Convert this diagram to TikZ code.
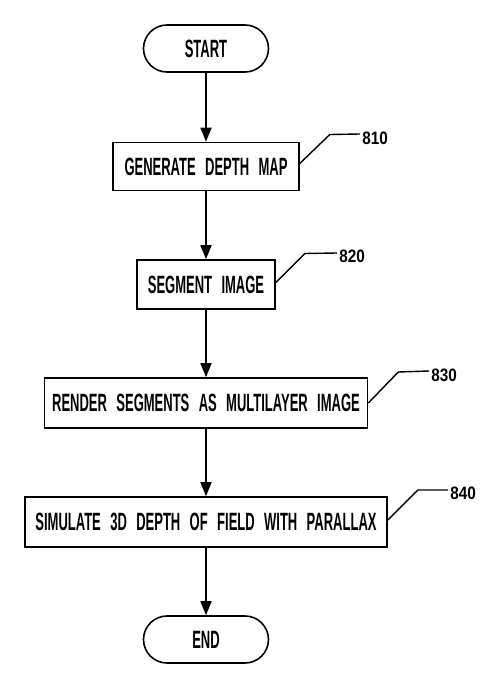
\documentclass[tikz,border=0pt]{standalone}
\usepackage{fontspec}
\setmainfont{Liberation Sans}[FakeStretch=0.52,WordSpace=2.6,UprightFont=* Bold]
\newfontfamily\numfont{Liberation Sans}[FakeStretch=0.85,UprightFont=* Bold]
\usetikzlibrary{shapes.misc,arrows.meta}
\begin{document}
\begin{tikzpicture}[x=1pt,y=-1pt,line width=1.6pt,
  stepbox/.style={draw,rectangle,minimum height=48pt,inner sep=0pt,font=\fontsize{25}{25}\selectfont},
  term/.style={draw,rounded rectangle,minimum width=125pt,minimum height=47pt,inner sep=0pt,font=\fontsize{25}{25}\selectfont},
  arr/.style={-{Triangle[length=14pt,width=11pt]}},
  lead/.style={line width=1.4pt},
  refnum/.style={font=\numfont\fontsize{18}{18}\selectfont,anchor=west,inner sep=0.5pt}]
\useasboundingbox (0,0) rectangle (500,682);
\node[term] (start) at (206,48.5) {START};
\node[stepbox,minimum width=186pt] (b810) at (206,166.5) {GENERATE DEPTH MAP};
\node[stepbox,minimum width=138pt,minimum height=49pt] (b820) at (206,284.5) {SEGMENT IMAGE};
\node[stepbox,minimum width=323pt,minimum height=50pt] (b830) at (206,403) {RENDER SEGMENTS AS MULTILAYER IMAGE};
\node[stepbox,minimum width=362pt,minimum height=50pt] (b840) at (206,522) {SIMULATE 3D DEPTH OF FIELD WITH PARALLAX};
\node[term] (end) at (206,639.5) {END};
\draw[arr] (start) -- (b810);
\draw[arr] (b810) -- (b820);
\draw[arr] (b820) -- (b830);
\draw[arr] (b830) -- (b840);
\draw[arr] (b840) -- (end);
% reference numerals
\coordinate (k810) at (360,134);
\coordinate (k820) at (337,253);
\coordinate (k830) at (429,371);
\coordinate (k840) at (448,490);
\node[refnum] (n810) at (361,138) {810};
\node[refnum] (n820) at (338,256) {820};
\node[refnum] (n830) at (430,375) {830};
\node[refnum] (n840) at (449,493) {840};
\draw[lead] ([yshift=3pt]b810.east) -- ++(30,-29) -- (k810);
\draw[lead] ([yshift=2pt]b820.east) -- ++(29,-29) -- (k820);
\draw[lead] (b830.east) -- ++(30,-31) -- (k830);
\draw[lead] ([yshift=2pt]b840.east) -- ++(30,-30) -- (k840);
\end{tikzpicture}
\end{document}
